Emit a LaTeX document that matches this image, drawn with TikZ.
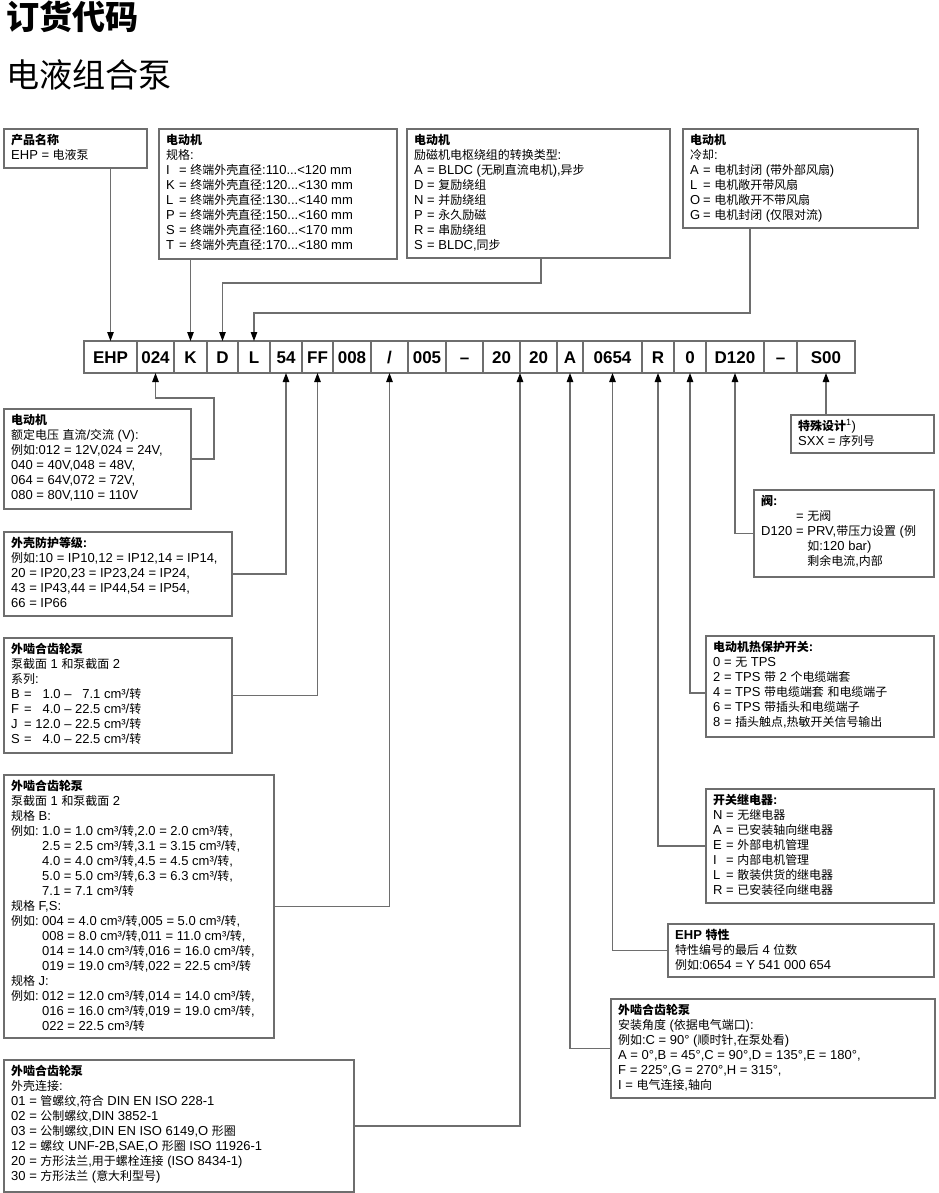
\documentclass[tikz,border=0pt]{standalone}
\usepackage{fontspec}
\setmainfont{Liberation Sans}
\newfontfamily\cjk{Noto Sans CJK SC}[Scale=0.92]
\usetikzlibrary{arrows.meta}
% automatic switch to the CJK font for ideographs
\XeTeXinterchartokenstate=1
\newXeTeXintercharclass\zhclass
\newcount\zhc
\zhc="4E00
\loop \XeTeXcharclass\zhc=\zhclass\relax \ifnum\zhc<"9FFF \advance\zhc by 1 \repeat
\XeTeXinterchartoks 0 \zhclass = {\begingroup\cjk}
\XeTeXinterchartoks 4095 \zhclass = {\begingroup\cjk}
\XeTeXinterchartoks \zhclass 0 = {\endgroup}
\XeTeXinterchartoks \zhclass 4095 = {\endgroup}
\definecolor{linegray}{HTML}{6E6E6E}
\newcommand\lbl[1]{\makebox[13pt][l]{#1}}
\newcommand\exm{\makebox[31pt][l]{例如:}}
\newcommand\hind{\hspace*{31pt}}
\tikzset{
  box/.style={draw=linegray, line width=1.1pt, inner sep=0pt, outer sep=0pt, anchor=north west},
  txt/.style={inner sep=0pt, anchor=north west, align=left, font=\fontsize{13}{15}\selectfont},
  cell/.style={draw=linegray, line width=1.1pt, minimum height=32pt, inner sep=0pt, outer sep=0pt,
    text height=12.2pt, text depth=0pt, font=\fontsize{17}{20}\selectfont\bfseries},
  conn/.style={draw=linegray, line width=1.1pt, -{Triangle[length=9pt,width=6.5pt,color=black]}},
}
\newcommand\ibox[6]{%
  \node[box, minimum width=#4pt, minimum height=#5pt] (#1) at (#2,#3) {};
  \node[txt] (#1t) at ([xshift=7pt,yshift=-4pt]#1.north west) {\rule{0pt}{11pt}#6};}
\begin{document}
\begin{tikzpicture}[x=1pt,y=-1pt]
\useasboundingbox (0,0) rectangle (938,1193);
% titles
\node[inner sep=0pt, anchor=base west, font=\fontsize{36}{40}\selectfont\bfseries] (title) at (6,30) {订货代码};
\node[inner sep=0pt, anchor=base west, font=\fontsize{36}{40}\selectfont] (subtitle) at (6,88) {电液组合泵};
% top boxes
\ibox{bA}{4}{129}{143}{39}{{\bfseries 产品名称}\\EHP = 电液泵}
\ibox{bB}{159}{129}{238}{130}{{\bfseries 电动机}\\规格:\\
\lbl{I}= 终端外壳直径:110...<120 mm\\
\lbl{K}= 终端外壳直径:120...<130 mm\\
\lbl{L}= 终端外壳直径:130...<140 mm\\
\lbl{P}= 终端外壳直径:150...<160 mm\\
\lbl{S}= 终端外壳直径:160...<170 mm\\
\lbl{T}= 终端外壳直径:170...<180 mm}
\ibox{bC}{407}{129}{263}{129}{{\bfseries 电动机}\\励磁机电枢绕组的转换类型:\\
\lbl{A}= BLDC (无刷直流电机),异步\\
\lbl{D}= 复励绕组\\
\lbl{N}= 并励绕组\\
\lbl{P}= 永久励磁\\
\lbl{R}= 串励绕组\\
\lbl{S}= BLDC,同步}
\ibox{bD}{683}{129}{235}{99}{{\bfseries 电动机}\\冷却:\\
\lbl{A}= 电机封闭 (带外部风扇)\\
\lbl{L}= 电机敞开带风扇\\
\lbl{O}= 电机敞开不带风扇\\
\lbl{G}= 电机封闭 (仅限对流)}
% code row
\node[cell, minimum width=53pt] (c1) at (110.5,357) {EHP};
\node[cell, minimum width=37pt] (c2) at (155.5,357) {024};
\node[cell, minimum width=33pt] (c3) at (190.5,357) {K};
\node[cell, minimum width=31pt] (c4) at (222.5,357) {D};
\node[cell, minimum width=32pt] (c5) at (254,357) {L};
\node[cell, minimum width=32pt] (c6) at (286,357) {54};
\node[cell, minimum width=31pt] (c7) at (317.5,357) {FF};
\node[cell, minimum width=38pt] (c8) at (352,357) {008};
\node[cell, minimum width=37pt] (c9) at (389.5,357) {/};
\node[cell, minimum width=38pt] (c10) at (427,357) {005};
\node[cell, minimum width=37pt] (c11) at (464.5,357) {–};
\node[cell, minimum width=37pt] (c12) at (501.5,357) {20};
\node[cell, minimum width=37pt] (c13) at (538.5,357) {20};
\node[cell, minimum width=26pt] (c14) at (570,357) {A};
\node[cell, minimum width=59pt] (c15) at (612.5,357) {0654};
\node[cell, minimum width=32pt] (c16) at (658,357) {R};
\node[cell, minimum width=32pt] (c17) at (690,357) {0};
\node[cell, minimum width=58pt] (c18) at (735,357) {D120};
\node[cell, minimum width=33pt] (c19) at (780.5,357) {–};
\node[cell, minimum width=58pt] (c20) at (826,357) {S00};
% left boxes
\ibox{bE}{4}{409}{187}{100}{{\bfseries 电动机}\\额定电压 直流/交流 (V):\\
例如:012 = 12V,024 = 24V,\\
040 = 40V,048 = 48V,\\
064 = 64V,072 = 72V,\\
080 = 80V,110 = 110V}
\ibox{bF}{4}{532}{228}{84}{{\bfseries 外壳防护等级:}\\
例如:10 = IP10,12 = IP12,14 = IP14,\\
20 = IP20,23 = IP23,24 = IP24,\\
43 = IP43,44 = IP44,54 = IP54,\\
66 = IP66}
\ibox{bG}{4}{638}{228}{115}{{\bfseries 外啮合齿轮泵}\\泵截面 1 和泵截面 2\\系列:\\
\lbl{B}= \hphantom{1}1.0 – \hphantom{2}7.1 cm³/转\\
\lbl{F}= \hphantom{1}4.0 – 22.5 cm³/转\\
\lbl{J}= 12.0 – 22.5 cm³/转\\
\lbl{S}= \hphantom{1}4.0 – 22.5 cm³/转}
\ibox{bH}{4}{775}{270}{263}{{\bfseries 外啮合齿轮泵}\\泵截面 1 和泵截面 2\\规格 B:\\
\exm 1.0 = 1.0 cm³/转,2.0 = 2.0 cm³/转,\\
\hind 2.5 = 2.5 cm³/转,3.1 = 3.15 cm³/转,\\
\hind 4.0 = 4.0 cm³/转,4.5 = 4.5 cm³/转,\\
\hind 5.0 = 5.0 cm³/转,6.3 = 6.3 cm³/转,\\
\hind 7.1 = 7.1 cm³/转\\
规格 F,S:\\
\exm 004 = 4.0 cm³/转,005 = 5.0 cm³/转,\\
\hind 008 = 8.0 cm³/转,011 = 11.0 cm³/转,\\
\hind 014 = 14.0 cm³/转,016 = 16.0 cm³/转,\\
\hind 019 = 19.0 cm³/转,022 = 22.5 cm³/转\\
规格 J:\\
\exm 012 = 12.0 cm³/转,014 = 14.0 cm³/转,\\
\hind 016 = 16.0 cm³/转,019 = 19.0 cm³/转,\\
\hind 022 = 22.5 cm³/转}
\ibox{bI}{4}{1060}{350}{132}{{\bfseries 外啮合齿轮泵}\\外壳连接:\\
01 = 管螺纹,符合 DIN EN ISO 228-1\\
02 = 公制螺纹,DIN 3852-1\\
03 = 公制螺纹,DIN EN ISO 6149,O 形圈\\
12 = 螺纹 UNF-2B,SAE,O 形圈 ISO 11926-1\\
20 = 方形法兰,用于螺栓连接 (ISO 8434-1)\\
30 = 方形法兰 (意大利型号)}
% right boxes
\ibox{bJ}{791}{415}{143}{38}{{\bfseries 特殊设计}\textsuperscript{1})\\SXX = 序列号}
\ibox{bK}{754}{490}{180}{87}{{\bfseries 阀:}\\
\hspace*{35pt}= 无阀\\
\makebox[35pt][l]{D120}= PRV,带压力设置 (例\\
\hspace*{35pt}\phantom{= }如:120 bar)\\
\hspace*{35pt}\phantom{= }剩余电流,内部}
\ibox{bL}{706}{636}{228}{101}{{\bfseries 电动机热保护开关:}\\
0 = 无 TPS\\
2 = TPS 带 2 个电缆端套\\
4 = TPS 带电缆端套 和电缆端子\\
6 = TPS 带插头和电缆端子\\
8 = 插头触点,热敏开关信号输出}
\ibox{bM}{706}{789}{228}{114}{{\bfseries 开关继电器:}\\
\lbl{N}= 无继电器\\
\lbl{A}= 已安装轴向继电器\\
\lbl{E}= 外部电机管理\\
\lbl{I}= 内部电机管理\\
\lbl{L}= 散装供货的继电器\\
\lbl{R}= 已安装径向继电器}
\ibox{bN}{668}{924}{266}{53}{{\bfseries EHP 特性}\\特性编号的最后 4 位数\\例如:0654 = Y 541 000 654}
\ibox{bO}{611}{999}{324}{99}{{\bfseries 外啮合齿轮泵}\\安装角度 (依据电气端口):\\
例如:C = 90° (顺时针,在泵处看)\\
A = 0°,B = 45°,C = 90°,D = 135°,E = 180°,\\
F = 225°,G = 270°,H = 315°,\\
I = 电气连接,轴向}
% connectors
\coordinate (cBend) at (541,283);
\coordinate (dBend) at (750,313);
\coordinate (eBend) at (214,398);
\coordinate (lY) at (0,693);
\draw[conn] (bA.south -| c1.north) -- (c1.north);
\draw[conn] (bB.south -| c3.north) -- (c3.north);
\draw[conn] (bC.south -| cBend) -- (cBend) -| (c4.north);
\draw[conn] (bD.south -| dBend) -- (dBend) -| (c5.north);
\draw[conn] (bE.east) -| (eBend) -| (c2.south);
\draw[conn] (bF.east) -| (c6.south);
\draw[conn] (bG.east) -| (c7.south);
\draw[conn] (bH.east) -| (c9.south);
\draw[conn] (bI.east) -| (c12.south east);
\draw[conn] (bJ.north -| c20.south) -- (c20.south);
\draw[conn] (bK.west) -| (c18.south);
\draw[conn] (bL.west |- lY) -| (c17.south);
\draw[conn] (bM.west) -| (c16.south);
\draw[conn] (bN.west) -| (c15.south);
\draw[conn] (bO.west) -| (c14.south);
\end{tikzpicture}
\end{document}
